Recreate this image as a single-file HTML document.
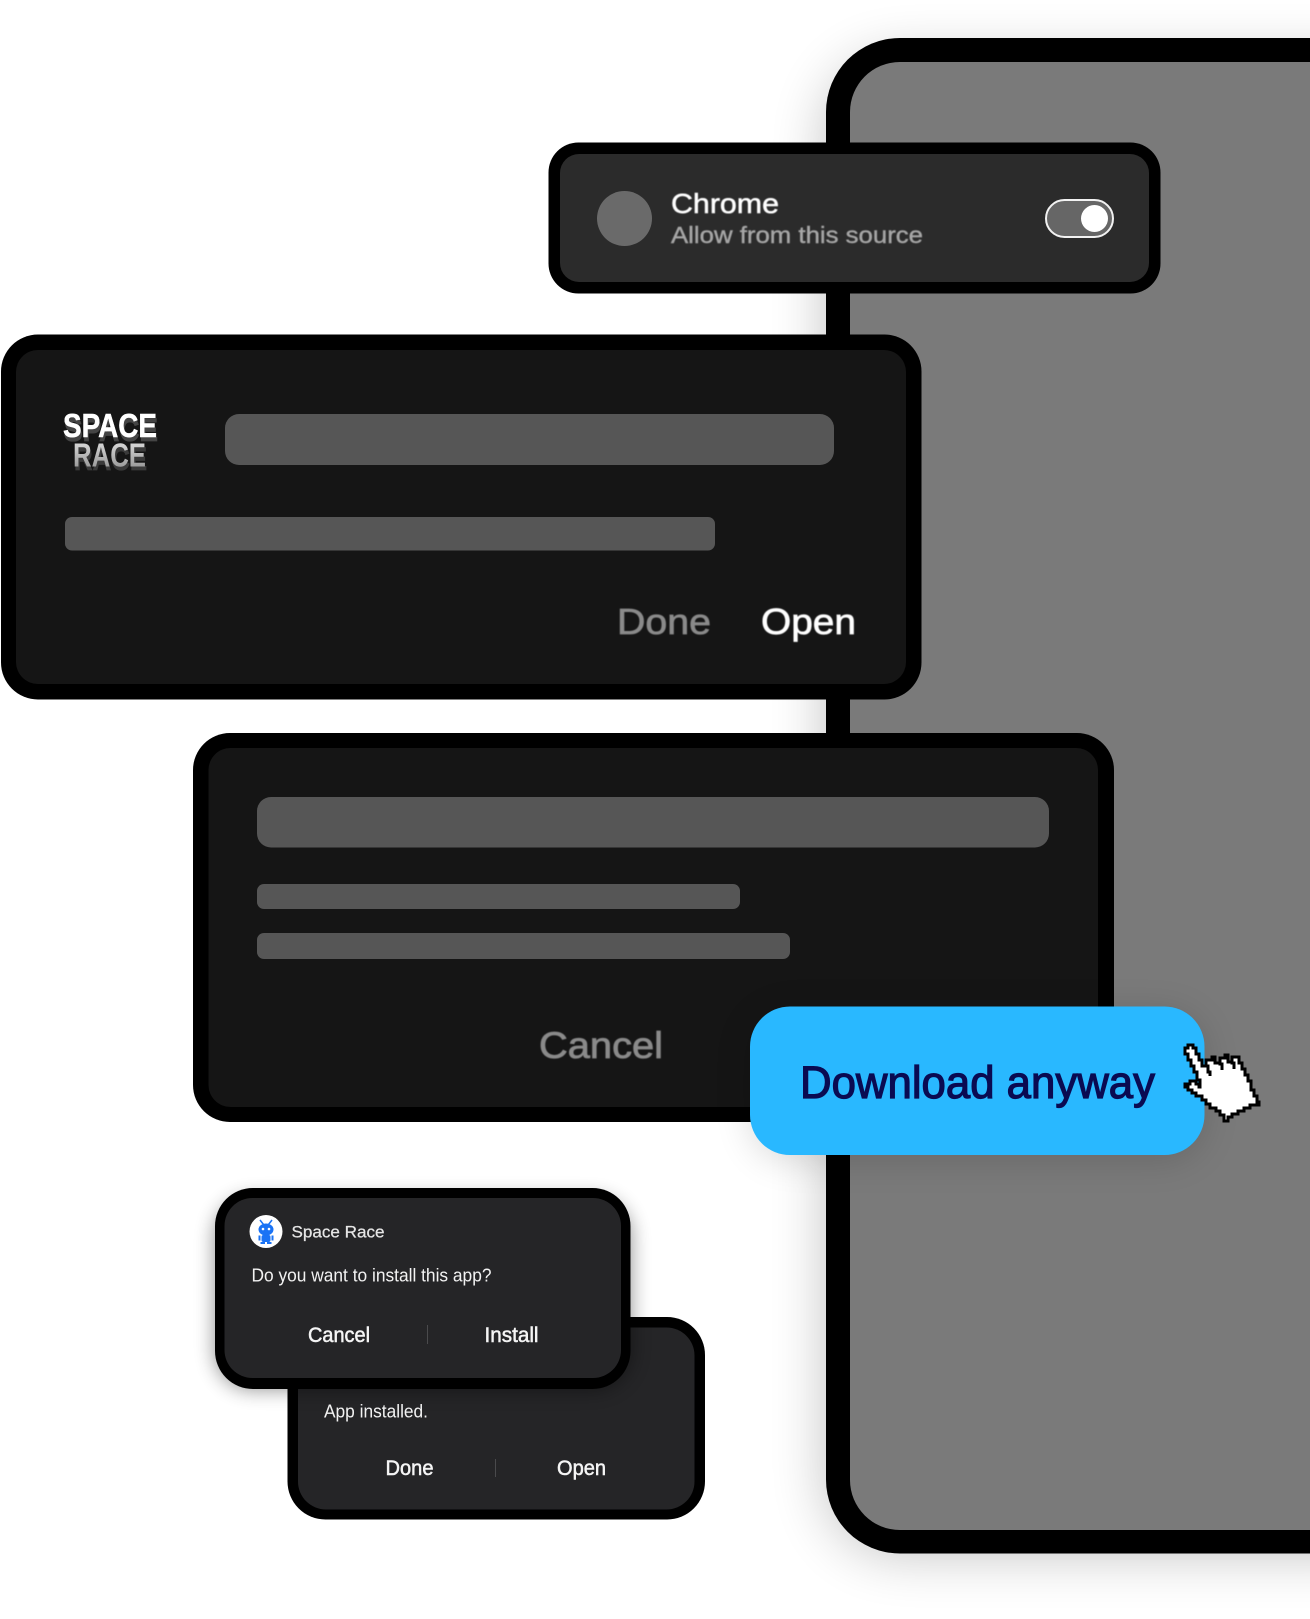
<!DOCTYPE html>
<html lang="en">
<head>
<meta charset="utf-8">
<title>Download anyway</title>
<style>
html,body{margin:0;padding:0;background:#fff;width:1310px;height:1619px;overflow:hidden}
svg{display:block}
text{font-family:"Liberation Sans",sans-serif}
</style>
</head>
<body>
<svg width="1310" height="1619" viewBox="0 0 1310 1619" xmlns="http://www.w3.org/2000/svg">
<defs>
<filter id="ps" x="-30%" y="-20%" width="160%" height="140%"><feGaussianBlur stdDeviation="28"/></filter>
<filter id="ds" x="-20%" y="-30%" width="140%" height="170%"><feGaussianBlur stdDeviation="10"/></filter>
<filter id="bs" x="-20%" y="-40%" width="140%" height="180%"><feGaussianBlur stdDeviation="18"/></filter>
<filter id="soft" x="-5%" y="-20%" width="110%" height="140%"><feGaussianBlur stdDeviation="0.45"/></filter>
<linearGradient id="race" x1="0" y1="0" x2="0" y2="1"><stop offset="0" stop-color="#e6e6e6"/><stop offset="1" stop-color="#8b8b8b"/></linearGradient>
</defs>

<!-- phone -->
<rect x="826" y="58" width="600" height="1496" rx="74" fill="#000" opacity=".24" filter="url(#ps)"/>
<rect x="826" y="38" width="600" height="1515.5" rx="74" fill="#000"/>
<rect x="850" y="62" width="560" height="1468" rx="50" fill="#7a7a7a"/>

<!-- chrome card -->
<rect x="548.5" y="142.5" width="612" height="151" rx="30" fill="#000"/>
<rect x="560" y="154" width="589" height="128" rx="19" fill="#2b2b2b"/>
<circle cx="624.5" cy="218.5" r="27.5" fill="#6a6a6a"/>
<text x="671" y="213" font-size="28" fill="#fff" stroke="#fff" stroke-width=".5" textLength="108" lengthAdjust="spacingAndGlyphs" filter="url(#soft)">Chrome</text>
<text x="671" y="243" font-size="23" fill="#a6a6a6" stroke="#a6a6a6" stroke-width=".4" textLength="252" lengthAdjust="spacingAndGlyphs" filter="url(#soft)">Allow from this source</text>
<rect x="1046" y="200" width="67" height="37" rx="18.5" fill="#666" stroke="#f2f2f2" stroke-width="2"/>
<circle cx="1094.5" cy="218.5" r="13.5" fill="#fff"/>

<!-- space race card -->
<rect x="1" y="334.5" width="920.5" height="365" rx="37" fill="#000"/>
<rect x="16" y="350" width="890" height="334" rx="22" fill="#151515"/>
<g font-weight="700">
<text x="64" y="441" font-size="32" fill="#444" stroke="#444" stroke-width=".8" textLength="94" lengthAdjust="spacingAndGlyphs">SPACE</text>
<text x="63" y="437" font-size="33" fill="#fff" stroke="#fff" stroke-width=".5" textLength="94" lengthAdjust="spacingAndGlyphs">SPACE</text>
<text x="74" y="470" font-size="32" fill="#3a3a3a" stroke="#3a3a3a" stroke-width=".8" textLength="73" lengthAdjust="spacingAndGlyphs">RACE</text>
<text x="73" y="466.500" font-size="33" fill="url(#race)" textLength="73" lengthAdjust="spacingAndGlyphs">RACE</text>
</g>
<rect x="225" y="414" width="609" height="51" rx="14" fill="#565656"/>
<rect x="65" y="517" width="650" height="33.500" rx="7" fill="#565656"/>
<text x="617" y="634" font-size="36" fill="#8a8a8a" stroke="#8a8a8a" stroke-width=".7" textLength="94" lengthAdjust="spacingAndGlyphs" filter="url(#soft)">Done</text>
<text x="761" y="634" font-size="36" fill="#fff" stroke="#fff" stroke-width=".7" textLength="95" lengthAdjust="spacingAndGlyphs" filter="url(#soft)">Open</text>

<!-- dialog card -->
<rect x="193" y="733" width="921" height="389" rx="37" fill="#000"/>
<rect x="208.500" y="748" width="889.500" height="359" rx="22" fill="#151515"/>
<rect x="257" y="797" width="792" height="50.500" rx="14" fill="#565656"/>
<rect x="257" y="884" width="483" height="25" rx="7" fill="#565656"/>
<rect x="257" y="933" width="533" height="26" rx="7" fill="#565656"/>
<text x="539" y="1058" font-size="37" fill="#8a8a8a" stroke="#8a8a8a" stroke-width=".8" textLength="124" lengthAdjust="spacingAndGlyphs" filter="url(#soft)">Cancel</text>

<!-- back install dialog -->
<rect x="287.500" y="1317" width="417.500" height="202.500" rx="38" fill="#000"/>
<rect x="298" y="1327.500" width="396.500" height="182" rx="28" fill="#252527"/>
<text x="324" y="1417.500" font-size="18" fill="#f2f2f2" textLength="104" lengthAdjust="spacingAndGlyphs">App installed.</text>
<text x="385.500" y="1475" font-size="21" fill="#f5f5f5" stroke="#f5f5f5" stroke-width=".5" textLength="48" lengthAdjust="spacingAndGlyphs">Done</text>
<text x="557" y="1475" font-size="21" fill="#f5f5f5" stroke="#f5f5f5" stroke-width=".5" textLength="49" lengthAdjust="spacingAndGlyphs">Open</text>
<rect x="495" y="1459" width="1" height="18" fill="#4a4a4c"/>

<!-- front install dialog -->
<rect x="215" y="1198" width="415.500" height="191" rx="38" fill="#000" opacity=".45" filter="url(#ds)"/>
<rect x="215" y="1188" width="415.500" height="201" rx="38" fill="#000"/>
<rect x="224.500" y="1198" width="396.500" height="180" rx="28" fill="#252527"/>
<circle cx="266" cy="1231.500" r="16.500" fill="#fff"/>
<g fill="#1a73f5">
<ellipse cx="266" cy="1229.500" rx="7.500" ry="6"/>
<rect x="261.500" y="1235" width="9" height="7" rx="2"/>
<rect x="258.500" y="1235.500" width="2" height="5"/>
<rect x="271.500" y="1235.500" width="2" height="5"/>
<rect x="260.500" y="1242" width="4.500" height="2"/>
<rect x="267" y="1242" width="4.500" height="2"/>
<path d="M260 1220l3.500 4.500M272 1220l-3.500 4.500" stroke="#1a73f5" stroke-width="1.500"/>
</g>
<circle cx="263" cy="1229" r="1.300" fill="#fff"/>
<circle cx="269" cy="1229" r="1.300" fill="#fff"/>
<text x="291.500" y="1237.500" font-size="17" fill="#e6e6e6" stroke="#e6e6e6" stroke-width=".25" textLength="93" lengthAdjust="spacingAndGlyphs">Space Race</text>
<text x="251.500" y="1281.500" font-size="18" fill="#f2f2f2" textLength="240" lengthAdjust="spacingAndGlyphs">Do you want to install this app?</text>
<text x="308" y="1342" font-size="21" fill="#f5f5f5" stroke="#f5f5f5" stroke-width=".5" textLength="62" lengthAdjust="spacingAndGlyphs">Cancel</text>
<text x="484.500" y="1342" font-size="21" fill="#f5f5f5" stroke="#f5f5f5" stroke-width=".5" textLength="54" lengthAdjust="spacingAndGlyphs">Install</text>
<rect x="427" y="1325" width="1" height="19" fill="#4a4a4c"/>

<!-- download button -->
<rect x="750" y="1012" width="454.500" height="148.500" rx="40" fill="#000" opacity=".14" filter="url(#bs)"/>
<rect x="750" y="1006.500" width="454.500" height="148.500" rx="40" fill="#29b8ff"/>
<text x="800" y="1098" font-size="45" fill="#0a0b52" stroke="#0a0b52" stroke-width="1.200" textLength="355" lengthAdjust="spacingAndGlyphs">Download anyway</text>

<!-- cursor -->
<g transform="translate(1170 1030)" shape-rendering="crispEdges">
<path d="M15 18H18V15H23V18H26V24H29V30H32V36H36V30H42V27H45V33H50V28H55V25H58V32H62V27H69V33H72V39H75V45H78V51H81V60H84V66H87V72H89V75H80V78H74V81H68V84H62V87H58V91H54V85H50V81H46V78H40V74H36V70H32V66H26V63H22V60H18V57H15V54H20V51H26V54H29V57H30V50H27V42H24V36H21V30H18V24H15Z" fill="#fff" stroke="#000" stroke-width="3"/>
<path d="M36 30V36H38V42H40V46M50 28V34H52V40M62 27V33H64V39" fill="none" stroke="#000" stroke-width="3"/>
</g>
</svg>
</body>
</html>
